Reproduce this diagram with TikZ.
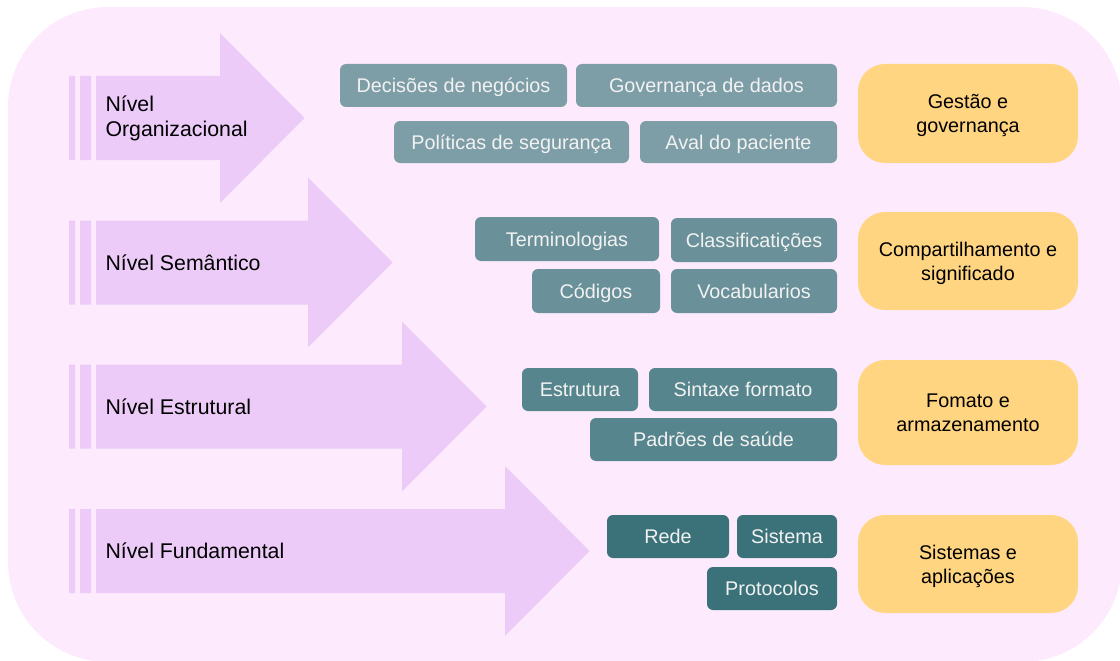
\documentclass[tikz,border=0pt]{standalone}
\usepackage{fontspec}
\setmainfont{Liberation Sans}
\usepackage{xcolor}
\definecolor{bgpink}{HTML}{FDEBFD}
\definecolor{lilac}{HTML}{ECCBF8}
\definecolor{goalyellow}{HTML}{FFD581}
\definecolor{tealA}{HTML}{7E9EA7}
\definecolor{tealB}{HTML}{6A9199}
\definecolor{tealC}{HTML}{57858D}
\definecolor{tealD}{HTML}{3B727A}
\tikzset{
  tag/.style={rounded corners=6pt,text=white!95!black,inner sep=0pt,
    text height=14.2pt,text depth=0pt,font=\fontsize{19.8}{23}\selectfont},
  goal/.style={fill=goalyellow,rounded corners=27pt,align=center,inner sep=0pt,
    minimum width=220pt,font=\fontsize{19.8}{24}\selectfont},
  level/.style={anchor=west,align=left,font=\fontsize{21.3}{25}\selectfont},
}
% two centred lines with fixed top and bottom struts
\newcommand{\goallines}[2]{\rule{0pt}{18.8pt}#1\\#2\rule[-4.8pt]{0pt}{4.8pt}}

\begin{document}
\begin{tikzpicture}[x=1pt,y=-1pt]
  \useasboundingbox (0,0) rectangle (1120,661);
  \clip (0,0) rectangle (1120,661);
  \fill[bgpink,rounded corners=100pt] (8,7) rectangle (1122,662);

  % level arrows
  \foreach \name/\yc/\hx/\txt in {org/118/220/{Nível\\Organizacional},
      sem/262.5/308/{Nível Semântico},est/406.5/402/{Nível Estrutural},
      fun/551/505/{Nível Fundamental}}{
    \fill[lilac] (69,\yc-42) rectangle (75,\yc+42) (80,\yc-42) rectangle (91,\yc+42);
    \fill[lilac] (96,\yc-42) -- (\hx,\yc-42) -- (\hx,\yc-85) -- (\hx+84.5,\yc)
      -- (\hx,\yc+85) -- (\hx,\yc+42) -- (96,\yc+42) -- cycle;
    \node[level] (\name) at (102,\yc) {\txt};
  }

  % organizacional
  \node[tag,fill=tealA,minimum width=227pt,minimum height=43pt] (decisoes) at (453.5,85.5) {Decisões de negócios};
  \node[tag,fill=tealA,minimum width=261pt,minimum height=43pt] (governanca) at (706.5,85.5) {Governança de dados};
  \node[tag,fill=tealA,minimum width=235pt,minimum height=42pt] (politicas) at (511.5,142) {Políticas de segurança};
  \node[tag,fill=tealA,minimum width=197pt,minimum height=42pt] (aval) at (738.5,142) {Aval do paciente};

  % semantico
  \node[tag,fill=tealB,minimum width=184pt,minimum height=44pt] (termos) at (567,239) {Terminologias};
  \node[tag,fill=tealB,minimum width=166pt,minimum height=44pt] (classes) at (754,240) {Classificatições};
  \node[tag,fill=tealB,minimum width=128pt,minimum height=44pt] (codigos) at (596,291) {Códigos};
  \node[tag,fill=tealB,minimum width=166pt,minimum height=44pt] (vocab) at (754,291) {Vocabularios};

  % estrutural
  \node[tag,fill=tealC,minimum width=116pt,minimum height=43pt] (estrutura) at (580,389.5) {Estrutura};
  \node[tag,fill=tealC,minimum width=188pt,minimum height=43pt] (sintaxe) at (743,389.5) {Sintaxe formato};
  \node[tag,fill=tealC,minimum width=247pt,minimum height=43pt] (padroes) at (713.5,439.5) {Padrões de saúde};

  % fundamental
  \node[tag,fill=tealD,minimum width=122pt,minimum height=43pt] (rede) at (668,536.5) {Rede};
  \node[tag,fill=tealD,minimum width=100pt,minimum height=43pt] (sistema) at (787,536.5) {Sistema};
  \node[tag,fill=tealD,minimum width=130pt,minimum height=43pt] (protocolos) at (772,588.5) {Protocolos};

  % goals
  \node[goal,minimum height=99pt] (gestao) at (968,113.5) {\goallines{Gestão e}{governança}};
  \node[goal,minimum height=98pt] (compart) at (968,261) {\goallines{Compartilhamento e}{significado}};
  \node[goal,minimum height=105pt] (formato) at (968,412.5) {\goallines{Fomato e}{armazenamento}};
  \node[goal,minimum height=98pt] (sistemas) at (968,564) {\goallines{Sistemas e}{aplicações}};
\end{tikzpicture}
\end{document}
